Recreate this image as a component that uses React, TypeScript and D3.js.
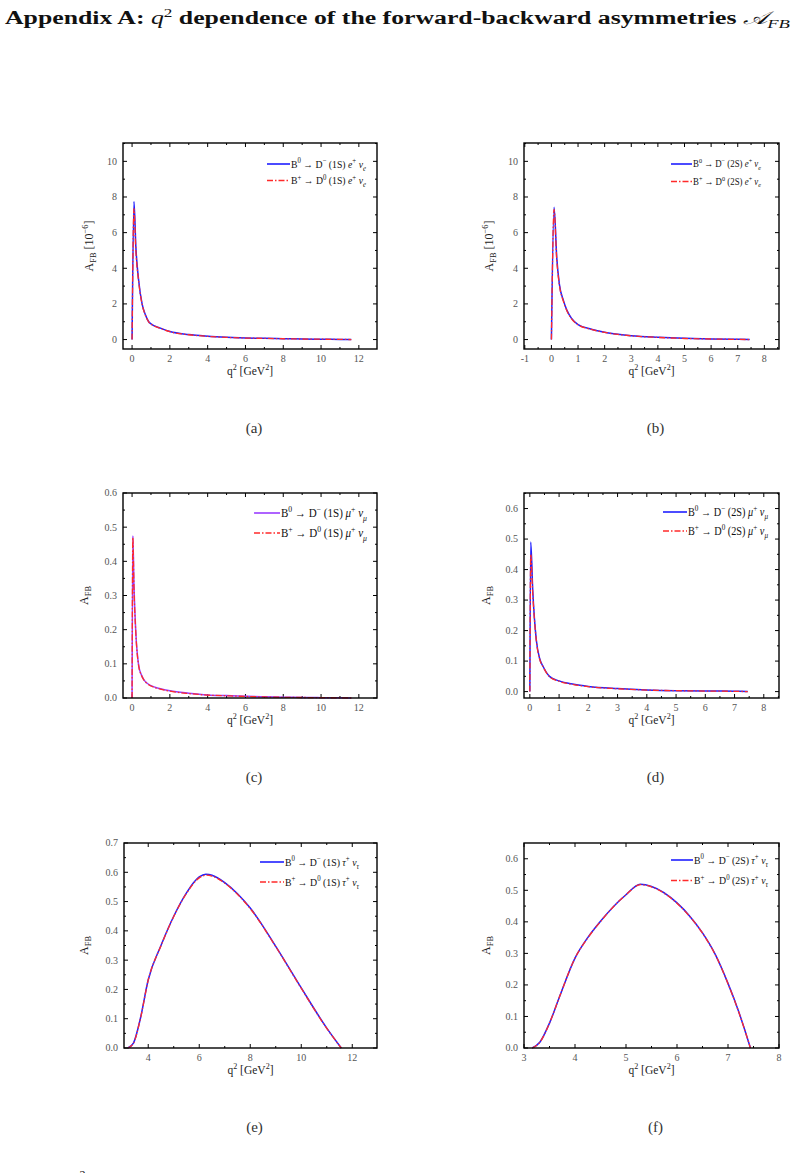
import React from 'react'
import * as d3 from 'd3'

// q² sampling (GeV²) and A_FB values for each decay channel.
// e channels are in units of 1e-6.
const q2E1 = [0, 0.1, 0.2, 0.35, 0.53, 0.7, 0.88, 1.0, 1.5, 2, 3, 4, 5, 6, 7, 8, 9, 10, 11, 11.6]
const afbE1Neutral = [0, 7.75, 5.2, 3.3, 2.0, 1.4, 1.0, 0.88, 0.64, 0.45, 0.28, 0.19, 0.13, 0.09, 0.07, 0.05, 0.035, 0.02, 0.01, 0]
const afbE1Charged = [0, 7.35, 5.0, 3.25, 1.98, 1.38, 0.99, 0.87, 0.63, 0.44, 0.27, 0.18, 0.12, 0.085, 0.065, 0.045, 0.03, 0.02, 0.01, 0]

const q2E2 = [0, 0.1, 0.2, 0.3, 0.45, 0.58, 0.75, 1.0, 1.5, 2, 2.5, 3, 4, 5, 6, 7, 7.45]
const afbE2Neutral = [0, 7.43, 4.6, 3.1, 2.2, 1.65, 1.2, 0.84, 0.58, 0.41, 0.3, 0.22, 0.13, 0.07, 0.035, 0.012, 0]
const afbE2Charged = [0, 7.3, 4.5, 3.05, 2.15, 1.62, 1.18, 0.83, 0.57, 0.4, 0.29, 0.21, 0.12, 0.06, 0.03, 0.01, 0]

const q2M1 = [0, 0.04, 0.1, 0.2, 0.35, 0.5, 0.62, 0.8, 1.0, 1.5, 2, 3, 4, 5, 6, 7, 8, 9, 10, 11, 11.6]
const afbM1Neutral = [0, 0.475, 0.33, 0.19, 0.095, 0.067, 0.054, 0.043, 0.036, 0.027, 0.021, 0.014, 0.009, 0.007, 0.005, 0.0035, 0.0025, 0.0017, 0.001, 0.0005, 0]
const afbM1Charged = [0, 0.47, 0.325, 0.188, 0.094, 0.066, 0.053, 0.042, 0.035, 0.026, 0.02, 0.013, 0.0085, 0.0065, 0.0045, 0.003, 0.002, 0.0015, 0.001, 0.0005, 0]

const q2M2 = [0, 0.03, 0.1, 0.22, 0.33, 0.45, 0.67, 1.0, 1.5, 2, 3, 4, 5, 6, 7, 7.45]
const afbM2Neutral = [0, 0.49, 0.33, 0.17, 0.11, 0.083, 0.05, 0.035, 0.024, 0.017, 0.01, 0.0055, 0.003, 0.002, 0.001, 0]
const afbM2Charged = [0, 0.45, 0.32, 0.168, 0.108, 0.082, 0.049, 0.034, 0.023, 0.016, 0.0095, 0.005, 0.003, 0.0018, 0.0008, 0]

const q2T1 = [3.2, 3.42, 3.69, 4.0, 4.5, 5.0, 5.5, 6.0, 6.26, 6.5, 7.0, 7.5, 8.0, 9.0, 10.0, 11.0, 11.57]
const afbT1Neutral = [0, 0.017, 0.1, 0.233, 0.35, 0.45, 0.53, 0.584, 0.593, 0.59, 0.565, 0.527, 0.478, 0.347, 0.205, 0.068, 0]
const afbT1Charged = [0, 0.016, 0.099, 0.232, 0.349, 0.449, 0.528, 0.581, 0.59, 0.587, 0.563, 0.525, 0.476, 0.346, 0.204, 0.067, 0]

const q2T2 = [3.16, 3.31, 3.5, 3.7, 4.0, 4.25, 4.5, 5.0, 5.28, 5.5, 6.0, 6.25, 6.5, 6.75, 7.0, 7.2, 7.44]
const afbT2Neutral = [0, 0.018, 0.079, 0.164, 0.285, 0.35, 0.402, 0.486, 0.519, 0.512, 0.46, 0.418, 0.365, 0.297, 0.205, 0.12, 0]
const afbT2Charged = [0, 0.018, 0.079, 0.164, 0.285, 0.349, 0.401, 0.486, 0.518, 0.511, 0.459, 0.417, 0.364, 0.296, 0.204, 0.119, 0]

const xTicksWide = [0, 2, 4, 6, 8, 10, 12]
const xTicksNarrow = [-1, 0, 1, 2, 3, 4, 5, 6, 7, 8]
const xTicksNarrowPos = [0, 1, 2, 3, 4, 5, 6, 7, 8]
const xTicksTauWide = [4, 6, 8, 10, 12]
const xTicksTauNarrow = [3, 4, 5, 6, 7, 8]
const yTicksE = [0, 2, 4, 6, 8, 10]
const yTicks06 = [0, 0.1, 0.2, 0.3, 0.4, 0.5, 0.6]
const yTicks07 = [0, 0.1, 0.2, 0.3, 0.4, 0.5, 0.6, 0.7]

type Part = [string, string?]

const BLUE = '#1f1fff'
const PURPLE = '#9a3cff'
const RED = '#ff2a2a'
const SERIF = "'Liberation Serif', 'DejaVu Serif', serif"
const DASH = '6,2,1.5,2'

function rich(parts: Part[], size: number) {
  let shift = 0
  return parts.map(([t, k], i) => {
    const kind = k || ''
    const target = kind.includes('s') ? -0.42 * size : kind.includes('b') ? 0.28 * size : 0
    const dy = target - shift
    shift = target
    return (
      <tspan
        key={i}
        dy={dy}
        fontSize={target !== 0 ? size * 0.7 : size}
        fontStyle={kind.includes('i') ? 'italic' : undefined}
      >
        {t}
      </tspan>
    )
  })
}

function channel(charge: string, dCharge: string, state: string, lep: string, nuSub: string): Part[] {
  return [
    ['B'], [charge, 's'], [' \u2192 '], ['D'], [dCharge, 's'], [` (${state}) `],
    [lep, 'i'], ['+', 's'], [' \u03bd', 'i'], [nuSub, 'bi'],
  ]
}

type PanelCfg = {
  key: string
  frame: [number, number, number, number]
  xDomain: [number, number]
  yDomain: [number, number]
  xTicks: number[]
  xMinor: number
  yTicks: number[]
  yMinor: number
  yFmt: (v: number) => string
  q2: number[]
  neutral: number[]
  charged: number[]
  neutralColor: string
  legend: { x0: number; x1: number; y: number; gap: number; size: number; w: number }
  state: string
  lep: string
  nuSub: string
  yScaled: boolean
  yTitleOffset: number
  caption: string
}

const fmtInt = (v: number) => (v < 0 ? '-' : '') + Math.abs(v)
const fmt1 = (v: number) => v.toFixed(1)

const panels: PanelCfg[] = [
  {
    key: 'a', frame: [123, 143, 377, 349], xDomain: [-0.48, 12.96], yDomain: [-0.53, 11.03],
    xTicks: xTicksWide, xMinor: 1, yTicks: yTicksE, yMinor: 1, yFmt: fmtInt,
    q2: q2E1, neutral: afbE1Neutral, charged: afbE1Charged, neutralColor: BLUE,
    legend: { x0: 267, x1: 290, y: 164, gap: 16.5, size: 10.5, w: 75 }, state: '1S', lep: 'e', nuSub: 'e',
    yScaled: true, yTitleOffset: 30, caption: '(a)',
  },
  {
    key: 'b', frame: [524, 143, 779, 349], xDomain: [-1.03, 8.55], yDomain: [-0.53, 11.03],
    xTicks: xTicksNarrow, xMinor: 0.5, yTicks: yTicksE, yMinor: 1, yFmt: fmtInt,
    q2: q2E2, neutral: afbE2Neutral, charged: afbE2Charged, neutralColor: BLUE,
    legend: { x0: 671, x1: 692, y: 164, gap: 17.5, size: 9.5, w: 68 }, state: '2S', lep: 'e', nuSub: 'e',
    yScaled: true, yTitleOffset: 31, caption: '(b)',
  },
  {
    key: 'c', frame: [123, 493, 377, 698], xDomain: [-0.48, 12.96], yDomain: [0, 0.6],
    xTicks: xTicksWide, xMinor: 1, yTicks: yTicks06, yMinor: 0.05, yFmt: fmt1,
    q2: q2M1, neutral: afbM1Neutral, charged: afbM1Charged, neutralColor: PURPLE,
    legend: { x0: 254, x1: 280, y: 513, gap: 20, size: 12, w: 86 }, state: '1S', lep: '\u03bc', nuSub: '\u03bc',
    yScaled: false, yTitleOffset: 35, caption: '(c)',
  },
  {
    key: 'd', frame: [524, 493, 779, 698], xDomain: [-0.2, 8.52], yDomain: [-0.021, 0.651],
    xTicks: xTicksNarrowPos, xMinor: 0.5, yTicks: yTicks06, yMinor: 0.05, yFmt: fmt1,
    q2: q2M2, neutral: afbM2Neutral, charged: afbM2Charged, neutralColor: BLUE,
    legend: { x0: 663, x1: 687, y: 512, gap: 19, size: 11.5, w: 80 }, state: '2S', lep: '\u03bc', nuSub: '\u03bc',
    yScaled: false, yTitleOffset: 34, caption: '(d)',
  },
  {
    key: 'e', frame: [124, 843, 377, 1048], xDomain: [3.05, 12.97], yDomain: [0, 0.7],
    xTicks: xTicksTauWide, xMinor: 1, yTicks: yTicks07, yMinor: 0.05, yFmt: fmt1,
    q2: q2T1, neutral: afbT1Neutral, charged: afbT1Charged, neutralColor: BLUE,
    legend: { x0: 260, x1: 284, y: 862, gap: 20, size: 11, w: 74 }, state: '1S', lep: '\u03c4', nuSub: '\u03c4',
    yScaled: false, yTitleOffset: 36, caption: '(e)',
  },
  {
    key: 'f', frame: [524, 843, 779, 1048], xDomain: [3, 8], yDomain: [0, 0.65],
    xTicks: xTicksTauNarrow, xMinor: 0.5, yTicks: yTicks06, yMinor: 0.05, yFmt: fmt1,
    q2: q2T2, neutral: afbT2Neutral, charged: afbT2Charged, neutralColor: BLUE,
    legend: { x0: 671, x1: 693, y: 860, gap: 20.5, size: 11, w: 74 }, state: '2S', lep: '\u03c4', nuSub: '\u03c4',
    yScaled: false, yTitleOffset: 34, caption: '(f)',
  },
]

function Panel({ p }: { p: PanelCfg }) {
  const [x0, y0, x1, y1] = p.frame
  const x = d3.scaleLinear().domain(p.xDomain).range([x0, x1])
  const y = d3.scaleLinear().domain(p.yDomain).range([y1, y0])
  const line = d3.line<number>()
    .x((_, i) => x(p.q2[i]))
    .y((d) => y(d))
    .curve(d3.curveMonotoneX)

  const inside = (v: number, dom: number[]) => v >= dom[0] - 1e-9 && v <= dom[1] + 1e-9
  const majX = p.xTicks.filter((v) => inside(v, p.xDomain))
  const majY = p.yTicks.filter((v) => inside(v, p.yDomain))
  const minX = d3.range(Math.ceil(p.xDomain[0] / p.xMinor) * p.xMinor, p.xDomain[1], p.xMinor)
    .filter((v) => !majX.some((m) => Math.abs(m - v) < 1e-6))
  const minY = d3.range(Math.ceil(p.yDomain[0] / p.yMinor) * p.yMinor, p.yDomain[1], p.yMinor)
    .filter((v) => !majY.some((m) => Math.abs(m - v) < 1e-6))

  const tickLabel = { fontFamily: SERIF, fontSize: 10, fill: '#555' }
  const cx = (x0 + x1) / 2
  const cy = (y0 + y1) / 2
  const lg = p.legend

  return (
    <g>
      {/* inward ticks on all four sides */}
      <g stroke="#000" strokeWidth={1}>
        {majX.map((v) => (
          <g key={'mx' + v}>
            <line x1={x(v)} x2={x(v)} y1={y1} y2={y1 - 4} />
            <line x1={x(v)} x2={x(v)} y1={y0} y2={y0 + 4} />
          </g>
        ))}
        {minX.map((v) => (
          <g key={'nx' + v}>
            <line x1={x(v)} x2={x(v)} y1={y1} y2={y1 - 2} />
            <line x1={x(v)} x2={x(v)} y1={y0} y2={y0 + 2} />
          </g>
        ))}
        {majY.map((v) => (
          <g key={'my' + v}>
            <line x1={x0} x2={x0 + 4} y1={y(v)} y2={y(v)} />
            <line x1={x1} x2={x1 - 4} y1={y(v)} y2={y(v)} />
          </g>
        ))}
        {minY.map((v) => (
          <g key={'ny' + v}>
            <line x1={x0} x2={x0 + 2} y1={y(v)} y2={y(v)} />
            <line x1={x1} x2={x1 - 2} y1={y(v)} y2={y(v)} />
          </g>
        ))}
      </g>

      {majX.map((v) => (
        <text key={'lx' + v} x={x(v)} y={y1 + 12.5} textAnchor="middle" {...tickLabel}>
          {fmtInt(v)}
        </text>
      ))}
      {majY.map((v) => (
        <text key={'ly' + v} x={x0 - 6} y={y(v) + 3.4} textAnchor="end" {...tickLabel}>
          {p.yFmt(v)}
        </text>
      ))}

      <path d={line(p.neutral) || ''} fill="none" stroke={p.neutralColor} strokeWidth={1.5} />
      <path d={line(p.charged) || ''} fill="none" stroke={RED} strokeWidth={1.3} strokeDasharray={DASH} />

      <rect x={x0} y={y0} width={x1 - x0} height={y1 - y0} fill="none" stroke="#000" strokeWidth={1.4} />

      {/* legend */}
      <line x1={lg.x0} x2={lg.x1} y1={lg.y} y2={lg.y} stroke={p.neutralColor} strokeWidth={1.6} />
      <line x1={lg.x0} x2={lg.x1} y1={lg.y + lg.gap} y2={lg.y + lg.gap} stroke={RED} strokeWidth={1.4} strokeDasharray={DASH} />
      <text x={lg.x1 + 1} y={lg.y + lg.size * 0.35} fontFamily={SERIF} fill="#111"
        textLength={lg.w} lengthAdjust="spacingAndGlyphs">
        {rich(channel('0', '\u2212', p.state, p.lep, p.nuSub), lg.size)}
      </text>
      <text x={lg.x1 + 1} y={lg.y + lg.gap + lg.size * 0.35} fontFamily={SERIF} fill="#111"
        textLength={lg.w} lengthAdjust="spacingAndGlyphs">
        {rich(channel('+', '0', p.state, p.lep, p.nuSub), lg.size)}
      </text>

      {/* axis titles */}
      <text
        transform={`translate(${x0 - p.yTitleOffset},${cy}) rotate(-90)`}
        textAnchor="middle"
        fontFamily={SERIF}
        fill="#222"
      >
        {rich(p.yScaled ? [['A'], ['FB', 'b'], [' [10'], ['\u22126', 's'], [']']] : [['A'], ['FB', 'b']], 12)}
      </text>
      <text x={cx} y={y1 + 26} textAnchor="middle" fontFamily={SERIF} fill="#222">
        {rich([['q'], ['2', 's'], [' [GeV'], ['2', 's'], [']']], 11.5)}
      </text>

      <text x={cx + 4} y={y1 + 84} textAnchor="middle" fontFamily={SERIF} fontSize={15} fill="#333">
        {p.caption}
      </text>
    </g>
  )
}

export default function App() {
  return (
    <svg
      width={800}
      height={1173}
      viewBox="0 0 800 1173"
      style={{ position: 'absolute', left: 0, top: 0, background: '#fff' }}
    >
      <rect width={800} height={1173} fill="#fff" />
      <text x={5} y={24} fontFamily={SERIF} fontWeight="bold" fontSize={18} fill="#111" textLength={785} lengthAdjust="spacingAndGlyphs">
        Appendix A: <tspan fontStyle="italic" fontWeight="normal">q</tspan>
        <tspan dy={-7} fontSize={12} fontWeight="normal">2</tspan>
        <tspan dy={7}> dependence of the forward-backward asymmetries </tspan>
        <tspan fontStyle="italic" fontWeight="normal">{'\ud835\udc9c'}</tspan>
        <tspan dy={4} fontSize={13} fontStyle="italic" fontWeight="normal">FB</tspan>
      </text>
      {panels.map((p) => (
        <Panel key={p.key} p={p} />
      ))}
      <text x={5} y={1186} fontFamily={SERIF} fontSize={17} fill="#111">
        From the <tspan fontStyle="italic">q</tspan>
        <tspan dy={-7} fontSize={12}>2</tspan>
        <tspan dy={7}> dependence of the forward-backward asymmetries A</tspan>
        <tspan dy={4} fontSize={12}>FB</tspan>
        <tspan dy={-4}> for these decays, we find that</tspan>
      </text>
    </svg>
  )
}
